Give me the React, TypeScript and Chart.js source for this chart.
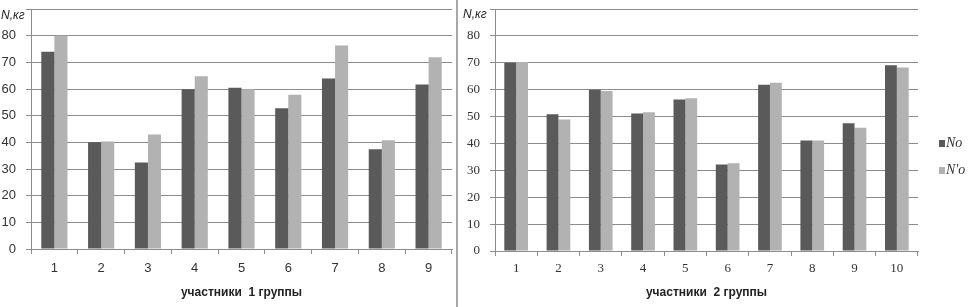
import React, { useEffect, useRef } from "react";
import { Chart, registerables } from "chart.js";

Chart.register(...registerables);

const categories1 = ["1", "2", "3", "4", "5", "6", "7", "8", "9"];
const no1 = [74.0, 40.0, 32.4, 59.9, 60.5, 52.8, 63.9, 37.4, 61.7];
const nPrime1 = [80.0, 40.3, 42.9, 64.8, 59.9, 57.8, 76.3, 40.8, 71.9];

const categories2 = ["1", "2", "3", "4", "5", "6", "7", "8", "9", "10"];
const no2 = [70.0, 50.9, 60.0, 51.1, 56.3, 32.2, 61.8, 41.1, 47.5, 69.1];
const nPrime2 = [70.3, 48.9, 59.5, 51.6, 56.8, 32.6, 62.6, 41.1, 45.8, 68.2];

const seriesNames = ["No", "N'o"];
const yTicks = [0, 10, 20, 30, 40, 50, 60, 70, 80];
const yLabel = "N,кг";
const xTitle1 = "участники  1 группы";
const xTitle2 = "участники  2 группы";

const DARK = "#5a5a5a";
const LIGHT = "#b2b2b2";
const GRID = "#8c8c8c";

function makeConfig(
  cats: string[],
  a: number[],
  b: number[],
  title: string,
  yWidth: number,
  rightPad: number,
  tickFont: string,
  xHeight: number,
  xTickPad: number
): any {
  return {
    type: "bar",
    data: {
      labels: cats,
      datasets: [
        { label: seriesNames[0], data: a, backgroundColor: DARK, borderWidth: 0 },
        { label: seriesNames[1], data: b, backgroundColor: LIGHT, borderWidth: 0 },
      ],
    },
    options: {
      responsive: false,
      animation: false,
      maintainAspectRatio: false,
      layout: { padding: { top: 9, right: rightPad, left: 0, bottom: 0 } },
      plugins: { legend: { display: false }, tooltip: { enabled: false } },
      datasets: { bar: { categoryPercentage: 0.56, barPercentage: 1.0 } },
      scales: {
        x: {
          grid: {
            drawOnChartArea: false,
            drawTicks: true,
            tickLength: 5,
            color: GRID,
            offset: true,
          },
          border: { display: true, color: GRID, width: 1 },
          ticks: {
            padding: xTickPad,
            color: "#333",
            font: { family: tickFont, size: 13 },
            autoSkip: false,
            maxRotation: 0,
          },
          title: {
            display: true,
            text: title,
            color: "#222",
            font: { family: "'Liberation Sans', Arial, sans-serif", size: 12, weight: "bold" },
            padding: { top: 0, bottom: 7 },
          },
          afterFit: (s: any) => {
            s.height = xHeight;
            s.paddingLeft = 0;
            s.paddingRight = 0;
          },
        },
        y: {
          min: 0,
          max: 90,
          afterBuildTicks: (s: any) => {
            s.ticks = yTicks.concat([90]).map((v) => ({ value: v }));
          },
          grid: { color: GRID, lineWidth: 1, tickLength: 5, drawTicks: true },
          border: { display: true, color: GRID, width: 1 },
          ticks: {
            padding: 10,
            color: "#333",
            font: { family: tickFont, size: 13 },
            callback: (v: any) => (yTicks.includes(Number(v)) ? String(v) : ""),
          },
          afterFit: (s: any) => {
            s.width = yWidth;
            s.paddingTop = 0;
            s.paddingBottom = 0;
          },
        },
      },
    },
  };
}

export default function App() {
  const c1 = useRef<HTMLCanvasElement>(null);
  const c2 = useRef<HTMLCanvasElement>(null);

  useEffect(() => {
    const ch1 = new Chart(
      c1.current!,
      makeConfig(categories1, no1, nPrime1, xTitle1, 31, 4, "'Liberation Sans', Arial, sans-serif", 58, 7)
    );
    const ch2 = new Chart(
      c2.current!,
      makeConfig(categories2, no2, nPrime2, xTitle2, 37, 55, "'Liberation Serif', 'Times New Roman', serif", 56, 5)
    );
    return () => {
      ch1.destroy();
      ch2.destroy();
    };
  }, []);

  const labelStyle: React.CSSProperties = {
    position: "absolute",
    fontFamily: "'Liberation Sans', Arial, sans-serif",
    fontStyle: "italic",
    fontSize: 12,
    color: "#222",
    lineHeight: "12px",
    whiteSpace: "nowrap",
  };
  const legendText: React.CSSProperties = {
    position: "absolute",
    fontFamily: "'Liberation Serif', 'Times New Roman', serif",
    fontStyle: "italic",
    fontSize: 14,
    color: "#333",
    lineHeight: "14px",
    whiteSpace: "nowrap",
  };

  return (
    <div
      style={{
        position: "fixed",
        left: 0,
        top: 0,
        width: 973,
        height: 307,
        background: "#fff",
        overflow: "hidden",
      }}
    >
      <canvas ref={c1} width={456} height={307} style={{ position: "absolute", left: 0, top: 0, width: 456, height: 307 }} />
      <div style={{ position: "absolute", left: 456, top: 0, width: 2, height: 307, background: "#a8a8a8" }} />
      <canvas ref={c2} width={515} height={307} style={{ position: "absolute", left: 458, top: 0, width: 515, height: 307 }} />
      <span style={{ ...labelStyle, left: 1, top: 9 }}>{yLabel}</span>
      <span style={{ ...labelStyle, left: 463, top: 8 }}>{yLabel}</span>
      <div style={{ position: "absolute", left: 939, top: 140, width: 6, height: 7, background: DARK }} />
      <span style={{ ...legendText, left: 946, top: 136 }}>{seriesNames[0]}</span>
      <div style={{ position: "absolute", left: 939, top: 167, width: 6, height: 7, background: LIGHT }} />
      <span style={{ ...legendText, left: 946, top: 163 }}>{seriesNames[1]}</span>
    </div>
  );
}
